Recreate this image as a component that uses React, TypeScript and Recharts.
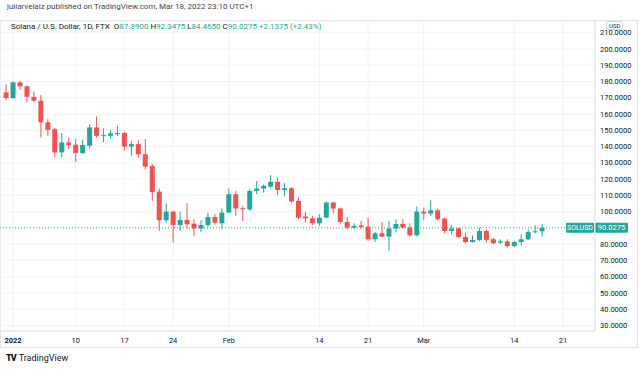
import {
    ComposedChart,
    Bar,
    XAxis,
    YAxis,
    CartesianGrid,
    ReferenceLine,
} from "recharts";

const UP = "#26a69a";
const DOWN = "#ef5350";
const TEXT = "#131722";
const GRID = "#f0f3fa";
const BORDER = "#e0e3eb";

// one candle per day, first one is 2021-12-31, last one 2022-03-18
const opens = [
    173.3,
    169.8, 179.5, 177.0, 170.6, 168.2, 154.9, 150.7, 136.4, 142.5, 141.1,
    136.0, 140.5, 151.8, 147.0, 146.6, 147.6, 148.3, 140.0, 141.5, 135.3,
    128.1, 112.3, 94.7, 100.0, 91.8, 94.9, 92.6, 89.6, 91.8, 96.7, 92.8,
    99.4, 110.7, 102.1, 101.4, 112.7, 114.2, 115.4, 118.3, 113.3, 114.4,
    106.6, 97.0, 95.9, 92.8, 96.3, 105.6, 101.9, 93.6, 90.2, 91.6,
    90.8, 83.0, 86.7, 84.6, 89.6, 92.4, 90.2, 85.4,
    100.0, 98.8, 100.8, 95.7, 88.1, 89.7, 84.4, 81.3, 82.6, 88.1,
    83.0, 80.9, 81.7, 78.8, 81.3, 83.0, 87.4, 87.89,
];
const highs = [
    178.4,
    180.0, 180.3, 177.6, 173.9, 171.7, 156.9, 151.5, 148.3, 145.6, 144.6,
    144.2, 153.8, 158.5, 151.2, 150.3, 152.8, 149.0, 143.5, 144.2, 144.6,
    129.2, 114.2, 105.1, 100.5, 100.0, 105.1, 95.3, 94.7, 99.4, 98.4, 101.9,
    114.2, 112.7, 103.5, 114.0, 118.9, 116.8, 122.4, 121.0, 117.5, 115.0,
    108.6, 100.0, 97.3, 98.4, 106.2, 106.0, 102.5, 96.7, 92.8, 94.3,
    96.3, 87.5, 93.6, 94.3, 95.3, 95.3, 92.8, 103.1,
    102.5, 107.0, 101.9, 96.3, 91.6, 90.2, 87.1, 85.4, 90.2, 89.1,
    84.0, 83.0, 83.0, 82.0, 86.1, 89.1, 91.6, 92.3475,
];
const lows = [
    168.5,
    169.3, 174.9, 167.2, 167.2, 145.6, 146.6, 133.3, 133.3, 138.4, 130.6,
    135.5, 138.8, 145.5, 142.5, 145.0, 146.6, 137.4, 134.3, 133.3, 126.1,
    106.6, 88.1, 93.2, 81.0, 88.1, 89.6, 85.0, 87.5, 90.5, 92.0, 89.6,
    99.0, 97.3, 94.3, 100.5, 110.7, 111.7, 114.5, 110.1, 109.6, 105.5,
    95.3, 93.2, 91.6, 91.2, 95.9, 99.0, 92.2, 89.1, 89.1, 89.1,
    82.0, 81.3, 84.3, 75.8, 87.1, 89.6, 84.6, 84.6,
    94.9, 97.3, 94.3, 86.7, 86.1, 83.8, 80.3, 81.0, 82.0, 80.9,
    80.0, 80.0, 77.8, 78.2, 79.3, 82.6, 86.8, 84.465,
];
const closes = [
    169.8,
    179.5, 177.0, 170.6, 168.2, 154.9, 150.3, 136.4, 142.5, 140.9, 136.0,
    141.0, 151.8, 146.6, 146.4, 148.1, 148.3, 140.0, 141.5, 135.3, 127.7,
    112.1, 94.7, 100.0, 91.8, 94.9, 92.2, 89.6, 91.8, 96.7, 93.2, 99.4,
    110.7, 101.9, 101.7, 112.7, 114.2, 115.8, 118.3, 113.3, 114.4, 106.2,
    96.3, 95.9, 92.8, 96.3, 105.6, 101.9, 93.6, 90.2, 91.2, 90.6,
    83.0, 86.7, 84.6, 89.6, 92.4, 90.2, 85.4, 100.0,
    98.8, 100.8, 95.3, 88.1, 89.6, 84.4, 81.3, 82.6, 88.1, 82.6,
    80.5, 81.7, 78.8, 81.3, 83.0, 87.4, 87.89, 90.0275,
];

// x ticks, in days after 2022-01-01
const tickDays = [0, 9, 16, 23, 31, 44, 51, 59, 72, 79];
const tickLabels = ["2022", "10", "17", "24", "Feb", "14", "21", "Mar", "14", "21"];
const priceTicks = [30, 40, 50, 60, 70, 80, 100, 110, 120, 130, 140, 150, 160, 170, 180, 190, 200, 210];
const lastPrice = 90.0275;

const data = opens.map((o, i) => ({
    day: i - 1,
    open: o,
    high: highs[i],
    low: lows[i],
    close: closes[i],
    range: [lows[i], highs[i]],
}));

const Candle = (props: any) => {
    const { x, y, width, height, payload } = props;
    if (x == null || !payload) return null;
    const top = Math.min(y, y + height);
    const bottom = Math.max(y, y + height);
    const span = payload.high - payload.low || 1;
    const toY = (v: number) => top + ((payload.high - v) / span) * (bottom - top);
    const up = payload.close >= payload.open;
    const color = up ? UP : DOWN;
    const yo = toY(payload.open);
    const yc = toY(payload.close);
    const cx = x + width / 2;
    return (
        <g>
            <line x1={cx} x2={cx} y1={top} y2={bottom} stroke={color} strokeWidth={1} />
            <rect
                x={x}
                y={Math.min(yo, yc)}
                width={width}
                height={Math.max(1, Math.abs(yc - yo))}
                fill={color}
            />
        </g>
    );
};

const DayTick = (props: any) => {
    const { x, y, payload } = props;
    const label = tickLabels[tickDays.indexOf(payload.value)];
    return (
        <text
            x={x}
            y={y + 4}
            textAnchor="middle"
            fontSize={7.5}
            fontWeight={label === "2022" ? 700 : 400}
            fill={TEXT}
        >
            {label}
        </text>
    );
};

const PriceTag = (props: any) => {
    const { viewBox } = props;
    if (!viewBox) return null;
    const right = viewBox.x + viewBox.width;
    const y = viewBox.y;
    return (
        <g>
            <rect x={right - 29} y={y - 5} width={28} height={10} rx={1} fill={UP} />
            <text x={right - 15} y={y + 2.6} textAnchor="middle" fontSize={7} fill="#fff">
                SOLUSD
            </text>
            <rect x={right} y={y - 5} width={33} height={10} rx={1} fill={UP} />
            <text x={right + 16.5} y={y + 2.6} textAnchor="middle" fontSize={7.5} fill="#fff">
                {lastPrice.toFixed(4)}
            </text>
        </g>
    );
};

export default function App() {
    return (
        <div
            style={{
                position: "absolute",
                left: 0,
                top: 0,
                width: 640,
                height: 370,
                background: "#fff",
                fontFamily: "Roboto, 'Noto Sans', sans-serif",
                color: TEXT,
                overflow: "hidden",
            }}
        >
            <div style={{ position: "absolute", left: 7, top: 2, fontSize: 8, color: "#434651" }}>
                juliarvelaiz published on TradingView.com, Mar 18, 2022 23:10 UTC+1
            </div>

            <div
                style={{
                    position: "absolute",
                    left: 0,
                    top: 20,
                    width: 636,
                    height: 326,
                    border: `1px solid ${BORDER}`,
                }}
            />

            <div style={{ position: "absolute", left: 0, top: 21 }}>
                <ComposedChart
                    width={638}
                    height={326}
                    data={data}
                    margin={{ top: 0, right: 0, bottom: 0, left: 0 }}
                >
                    <CartesianGrid stroke={GRID} />
                    <XAxis
                        dataKey="day"
                        type="number"
                        domain={[-1.87, 83.6]}
                        allowDataOverflow
                        ticks={tickDays}
                        interval={0}
                        tick={<DayTick />}
                        tickLine={false}
                        axisLine={{ stroke: BORDER }}
                        height={16}
                    />
                    <YAxis
                        orientation="right"
                        type="number"
                        domain={[26.6, 217.2]}
                        allowDataOverflow
                        ticks={priceTicks}
                        interval={0}
                        tickFormatter={(v: number) => v.toFixed(4)}
                        tick={{ fontSize: 7.5, fill: TEXT, textAnchor: "start" }}
                        tickLine={false}
                        tickSize={0}
                        tickMargin={5}
                        axisLine={{ stroke: BORDER }}
                        width={43}
                    />
                    <ReferenceLine
                        y={lastPrice}
                        stroke={UP}
                        strokeDasharray="1 2"
                        label={<PriceTag />}
                    />
                    <Bar
                        dataKey="range"
                        barSize={5}
                        shape={<Candle />}
                        isAnimationActive={false}
                    />
                </ComposedChart>
            </div>

            <div
                style={{
                    position: "absolute",
                    left: 606,
                    top: 21,
                    fontSize: 6,
                    lineHeight: "7px",
                    padding: "0 2px",
                    border: "1px solid #d1d4dc",
                    borderRadius: 2,
                    background: "#fff",
                    color: TEXT,
                }}
            >
                USD
            </div>

            <div style={{ position: "absolute", left: 11, top: 22, fontSize: 8, whiteSpace: "nowrap" }}>
                Solana / U.S. Dollar, 1D, FTX&nbsp;&nbsp;O<span style={{ color: UP }}>87.8900</span>
                &nbsp;H<span style={{ color: UP }}>92.3475</span>
                &nbsp;L<span style={{ color: UP }}>84.4650</span>
                &nbsp;C<span style={{ color: UP }}>90.0275</span>
                &nbsp;<span style={{ color: UP }}>+2.1375 (+2.43%)</span>
            </div>

            <div
                style={{
                    position: "absolute",
                    left: 6,
                    top: 353,
                    fontSize: 9,
                    color: TEXT,
                    whiteSpace: "nowrap",
                }}
            >
                <span style={{ fontWeight: 900, letterSpacing: -1, marginRight: 3 }}>TV</span>
                TradingView
            </div>
        </div>
    );
}
